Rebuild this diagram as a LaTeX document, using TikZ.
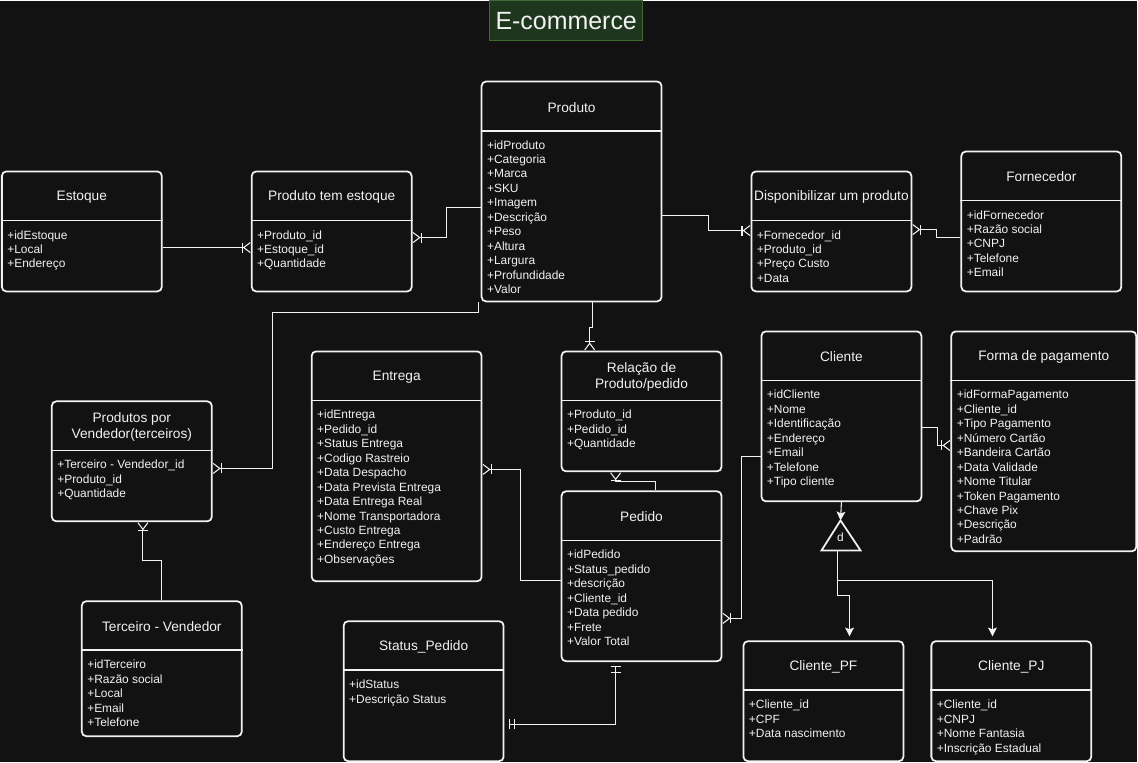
\documentclass[tikz,border=0pt]{standalone}
\usepackage{fontspec}
\setmainfont{Liberation Sans}
\usetikzlibrary{positioning,calc,arrows.meta}

\definecolor{bgcol}{RGB}{18,18,18}
\definecolor{titlefill}{RGB}{31,54,30}
\definecolor{titleline}{RGB}{64,106,50}
\definecolor{linecol}{RGB}{242,242,242}

\def\px{0.02cm}

\tikzset{
	entbox/.style={draw=linecol,line width=1pt,rounded corners=2.5pt,fill=bgcol,inner sep=0pt,anchor=north west},
	entline/.style={draw=linecol,line width=1pt},
	enttitle/.style={text=linecol,font=\fontsize{7.8}{9.6}\selectfont,align=center,inner sep=0pt},
	entattr/.style={text=linecol,font=\fontsize{6.8}{8.22}\selectfont,align=left,inner sep=0pt,anchor=north west},
	rel/.style={draw=linecol,line width=0.6pt},
	onemany/.style={-{Bar[width=5.7pt,sep=0pt] Straight Barb[reversed,length=3.8pt,width=5.7pt]}},
	onlyone/.style={{Bar[width=5.7pt,sep=2.4pt] Bar[width=5.7pt,sep=2.4pt]}-{Bar[width=5.7pt,sep=2.4pt] Bar[width=5.7pt,sep=2.4pt]}},
	isa/.style={-{Stealth[length=5pt,width=5pt,inset=1pt]}}
}

% name, x, y, width, height, title, attributes
\newcommand{\entity}[7]{%
	\node[entbox,minimum width=#4*\px,minimum height=#5*\px] (#1) at (#2,#3) {};
	\draw[entline] ($(#1.north west)+(0,50)$) -- ($(#1.north east)+(0,50)$);
	\node[enttitle] (#1-title) at ($(#1.north)+(0,26.5)$) {#6};
	\node[entattr] (#1-attr) at ($(#1.north west)+(6,59.5)$) {#7};
}

\begin{document}
\begin{tikzpicture}[x=0.02cm,y=-0.02cm]
		\fill[bgcol] (0,0) rectangle (1138,762);
		\node[draw=titleline,fill=titlefill,line width=0.8pt,text=linecol,inner sep=0pt,
			minimum width=153*\px,minimum height=40*\px,font=\fontsize{14.2}{16}\selectfont] (title) at (566.5,20) {E-commerce};

		\entity{estoque}{1}{170}{160}{120}{Estoque}{+idEstoque\\+Local\\+Endereço}
		\entity{pte}{251}{170}{160}{120}{Produto tem estoque}{+Produto\_id\\+Estoque\_id\\+Quantidade}
		\entity{produto}{481}{80}{180}{220}{Produto}{+idProduto\\+Categoria\\+Marca\\+SKU\\+Imagem\\+Descrição\\+Peso\\+Altura\\+Largura\\+Profundidade\\+Valor}
		\entity{disp}{751}{170}{160}{120}{Disponibilizar um produto}{+Fornecedor\_id\\+Produto\_id\\+Preço Custo\\+Data}
		\entity{forn}{961}{150}{160}{140}{Fornecedor}{+idFornecedor\\+Razão social\\+CNPJ\\+Telefone\\+Email}
		\entity{ppv}{51}{400}{160}{120}{Produtos por\\Vendedor(terceiros)}{+Terceiro - Vendedor\_id\\+Produto\_id\\+Quantidade}
		\entity{entrega}{311}{350}{170}{230}{Entrega}{+idEntrega\\+Pedido\_id\\+Status Entrega\\+Codigo Rastreio\\+Data Despacho\\+Data Prevista Entrega\\+Data Entrega Real\\+Nome Transportadora\\+Custo Entrega\\+Endereço Entrega\\+Observações}
		\entity{relacao}{561}{350}{160}{120}{Relação de\\Produto/pedido}{+Produto\_id\\+Pedido\_id\\+Quantidade}
		\entity{pedido}{561}{490}{160}{170}{Pedido}{+idPedido\\+Status\_pedido\\+descrição\\+Cliente\_id\\+Data pedido\\+Frete\\+Valor Total}
		\entity{cliente}{761}{330}{160}{170}{Cliente}{+idCliente\\+Nome\\+Identificação\\+Endereço\\+Email\\+Telefone\\+Tipo cliente}
		\entity{forma}{951}{330}{185}{220}{Forma de pagamento}{+idFormaPagamento\\+Cliente\_id\\+Tipo Pagamento\\+Número Cartão\\+Bandeira Cartão\\+Data Validade\\+Nome Titular\\+Token Pagamento\\+Chave Pix\\+Descrição\\+Padrão}
		\entity{terc}{81}{600}{160}{135}{Terceiro - Vendedor}{+idTerceiro\\+Razão social\\+Local\\+Email\\+Telefone}
		\entity{status}{343}{620}{160}{140}{Status\_Pedido}{+idStatus\\+Descrição Status}
		\entity{cpf}{743}{640}{160}{120}{Cliente\_PF}{+Cliente\_id\\+CPF\\+Data nascimento}
		\entity{cpj}{931}{640}{160}{120}{Cliente\_PJ}{+Cliente\_id\\+CNPJ\\+Nome Fantasia\\+Inscrição Estadual}

		% relacionamentos
		\draw[rel,onemany] ($(estoque.north east)+(0,77)$) -- ($(pte.north west)+(0,77)$);
		\draw[rel,onemany] ($(produto.north west)+(0,127)$) -- ++(-34,0) |- ($(pte.north east)+(0,67)$);
		\draw[rel,onemany] ($(produto.north east)+(0,135)$) -- ++(46,0) |- ($(disp.north west)+(0,60)$);
		\draw[rel,onemany] ($(forn.north west)+(0,87)$) -- ++(-24,0) |- ($(disp.north east)+(0,59)$);
		\draw[rel,onemany] ($(produto.south west)+(-2,0)$) -- ++(0,10) -| ($(ppv.north east)+(60,68)$) -- ($(ppv.north east)+(0,68)$);
		\draw[rel,onemany] ($(produto.south west)+(112,0)$) -- ++(0,25) -| ($(relacao.north west)+(29,0)$);
		\draw[rel,onemany] ($(pedido.north west)+(95,0)$) -- ++(0,-9) -| ($(relacao.south west)+(55,0)$);
		\draw[rel,onemany] ($(pedido.north west)+(0,90)$) -- ++(-40,0) |- ($(entrega.north east)+(0,119)$);
		\draw[rel,onemany] ($(cliente.north west)+(0,126)$) -- ++(-19,0) |- ($(pedido.north east)+(0,128)$);
		\draw[rel,onemany] ($(cliente.north east)+(0,97)$) -- ++(15,0) |- ($(forma.north west)+(0,115)$);
		\draw[rel,onemany] ($(terc.north west)+(81,0)$) -- ++(0,-40) -| ($(ppv.south west)+(92,0)$);
		\draw[rel,onlyone] ($(pedido.south west)+(55,0)$) |- ($(status.north east)+(0,104)$);

		% especializacao
		\coordinate (dtop) at (841,520);
		\coordinate (dbase) at (838,550);
		\draw[entline,fill=bgcol] (dtop) -- ++(20,30) -- ++(-39,0) -- cycle;
		\node[enttitle,font=\fontsize{6.8}{8}\selectfont] (dsym) at (841,537) {d};
		\draw[rel,isa] (cliente.south) -- (dtop);
		\draw[rel,isa] (dbase) -- ++(0,45) -| ($(cpf.north west)+(107,-4)$);
		\draw[rel,isa] (dbase) -- ++(0,30) -| ($(cpj.north west)+(62,-4)$);
\end{tikzpicture}
\end{document}
